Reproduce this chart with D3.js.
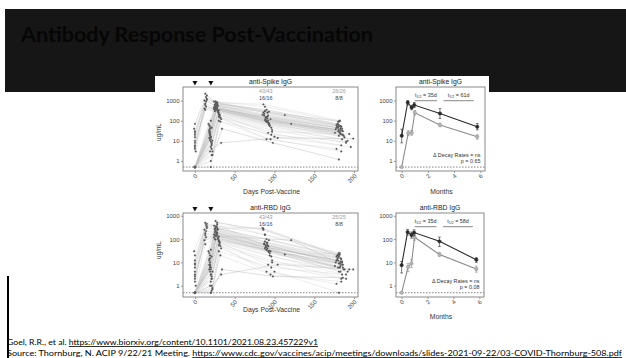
<!DOCTYPE html>
<html>
<head>
<meta charset="utf-8">
<script src="https://cdn.jsdelivr.net/npm/d3@7"></script>
<style>
  body { margin: 0; background: #fff; overflow: hidden; }
  svg { display: block; }
</style>
</head>
<body>
<svg id="slide" width="626" height="358"></svg>
<script>
// ---------- text ----------
const slideTitle = "Antibody Response Post-Vaccination";
const panelTitles = ["anti-Spike IgG", "anti-RBD IgG"];
const xTitles = ["Days Post-Vaccine", "Months"];
const yTitle = "ug/mL";
const footLine1 = ["Goel, R.R., et al. ", "https://www.biorxiv.org/content/10.1101/2021.08.23.457229v1"];
const footLine2 = ["Source: Thornburg, N. ACIP 9/22/21 Meeting. ", "https://www.cdc.gov/vaccines/acip/meetings/downloads/slides-2021-09-22/03-COVID-Thornburg-508.pdf"];

// ---------- ticks ----------
const yTicks = [1, 10, 100, 1000];
const dayTicks = [0, 50, 100, 150, 200];
const monthTicks = [0, 2, 4, 6];
const doseDays = [0, 20];
const limitOfDetection = 0.5;

// ---------- group counts ----------
const countDays = [89, 181];
const spikeCountsNaive = ["43/43", "26/26"];
const spikeCountsRecov = ["16/16", "8/8"];
const rbdCountsNaive = ["43/43", "25/25"];
const rbdCountsRecov = ["16/16", "8/8"];

// ---------- individual trajectories: [day, ug/mL] ----------
const spikeNaive = [
  [[0,0.5],[18,25],[27,420],[88,110],[180,30]],
  [[0,0.5],[20,12],[29,300],[92,80],[183,22]],
  [[0,0.5],[19,40],[26,650],[90,150],[178,45]],
  [[0,0.5],[21,8],[30,210],[94,55],[185,12]],
  [[0,0.5],[18,60],[28,800],[86,260],[181,60]],
  [[0,0.5],[20,5],[31,150],[97,35],[190,8]],
  [[0,0.5],[19,18],[27,380],[89,95],[176,25]],
  [[0,0.5],[22,3],[33,120],[100,16],[196,5]],
  [[0,0.5],[18,30],[25,500],[91,130],[183,35]],
  [[0,0.5],[20,9],[29,260],[93,70],[187,18]],
  [[0,0.5],[21,2],[32,90],[95,12],[184,3]],
  [[0,0.5],[19,50],[28,700],[87,180],[179,50]],
  [[0,0.5],[20,15],[30,330],[90,90],[182,28]],
  [[0,0.5],[17,70],[26,900],[88,300],[180,90]],
  [[0,0.5],[21,6],[31,180],[96,45],[192,10]],
  [[0,0.5],[19,22],[27,440],[92,100],[185,20]],
  [[0,0.5],[20,1],[34,40],[98,8],[181,1.2]],
  [[0,0.5],[18,35],[29,560],[89,140],[177,38]],
  [[0,0.5],[22,10],[30,240],[94,60],[188,15]],
  [[0,0.5],[19,28],[28,350],[91,85],[183,24]],
  [[0,0.5],[21,4],[33,8],[104,14],[199,13]],
  [[0,0.5],[21,45],[25,600],[85,200],[181,55]],
  [[0,0.5],[18,14],[29,280],[93,65],[186,20]],
  [[0,0.5],[20,0.5],[32,140],[97,28],[194,22]],
  [[0,0.5],[19,20],[27,400],[121,70],[182,26]],
  [[0,0.5],[21,7],[31,200],[92,25],[184,6]],
  [[0,0.5],[20,100],[28,750],[113,190],[182,100]],
  [[0,0.5],[19,3],[30,160],[90,12],[178,4]],
  [[0,0.5],[20,16],[28,480],[89,120],[185,32]],
  [[0,0.5],[19,11],[26,320],[93,75],[181,18]],
  [[0,0.5],[22,2],[30,100],[96,20],[190,9]]
];
const spikeRecovered = [
  [[-1,40],[13,2200],[24,900],[88,500],[181,90]],
  [[0,25],[14,1500],[26,700],[90,350],[179,70]],
  [[0,10],[12,1000],[25,600],[91,250],[183,55]],
  [[0,70],[15,1800],[27,800],[86,650],[182,100]],
  [[0,5],[13,700],[24,450],[92,180],[185,40]],
  [[0,8],[14,500],[26,400],[89,150],[180,45]],
  [[0,30],[15,1200],[28,650],[93,280],[178,60]],
  [[1,3],[13,350],[25,300],[95,120],[186,30]],
  [[0,15],[14,900],[27,550],[87,220],[184,50]],
  [[0,4],[12,400],[24,380],[90,100],[181,35]],
  [[0,20],[15,1100],[26,500],[88,300],[180,65]],
  [[0,6],[13,600],[25,350],[91,160],[183,42]]
];
const rbdNaive = [
  [[0,0.5],[18,8],[27,180],[88,40],[180,6]],
  [[0,0.5],[20,3],[29,120],[92,30],[183,4]],
  [[0,0.5],[19,15],[26,350],[90,70],[178,12]],
  [[0,0.5],[21,2],[30,80],[94,20],[185,3]],
  [[0,0.5],[18,25],[28,500],[86,250],[181,20]],
  [[0,0.5],[20,1.5],[31,60],[97,12],[190,2]],
  [[0,0.5],[19,6],[27,150],[89,45],[176,7]],
  [[0,0.5],[22,0.8],[33,40],[100,4],[181,0.5]],
  [[0,0.5],[18,12],[25,250],[91,55],[183,9]],
  [[0,0.5],[20,3],[29,100],[93,28],[187,5]],
  [[0,0.5],[21,0.6],[32,20],[95,3],[184,1.5]],
  [[0,0.5],[19,20],[28,300],[87,60],[179,14]],
  [[0,0.5],[20,5],[30,130],[90,35],[182,6]],
  [[0,0.5],[17,30],[26,600],[88,150],[180,22]],
  [[0,0.5],[21,2],[31,70],[96,18],[192,4]],
  [[0,0.5],[19,8],[27,200],[92,50],[185,8]],
  [[0,0.5],[20,0.5],[34,5],[98,2.5],[186,2.2]],
  [[0,0.5],[18,14],[29,260],[89,55],[177,10]],
  [[0,0.5],[22,4],[30,90],[94,25],[188,5]],
  [[0,0.5],[19,10],[28,160],[91,40],[183,7]],
  [[0,0.5],[21,1],[33,3],[104,8],[199,5]],
  [[0,0.5],[21,18],[25,280],[85,300],[181,18]],
  [[0,0.5],[18,5],[29,110],[93,30],[186,6]],
  [[0,0.5],[20,0.5],[32,50],[97,10],[194,5]],
  [[0,0.5],[19,7],[27,140],[121,90],[182,9]],
  [[0,0.5],[21,2.5],[31,75],[92,8],[184,2]],
  [[0,0.5],[20,35],[28,420],[113,22],[182,25]],
  [[0,0.5],[19,1],[30,55],[90,4],[178,1.2]],
  [[0,0.5],[20,6],[28,190],[89,45],[185,11]],
  [[0,0.5],[19,4],[26,95],[93,32],[181,4]],
  [[0,0.5],[22,0.7],[30,30],[96,6],[190,3]]
];
const rbdRecovered = [
  [[-1,30],[13,500],[24,380],[88,160],[181,25]],
  [[0,12],[14,400],[26,300],[90,100],[179,20]],
  [[0,4],[12,250],[25,200],[91,70],[183,15]],
  [[0,20],[15,450],[27,350],[86,280],[182,22]],
  [[0,2],[13,150],[24,160],[92,50],[185,10]],
  [[0,3],[14,120],[26,140],[89,45],[180,12]],
  [[0,8],[15,300],[28,250],[93,90],[178,18]],
  [[1,1],[13,60],[25,100],[95,30],[186,8]],
  [[0,6],[14,220],[27,180],[87,65],[184,14]],
  [[0,1.5],[12,90],[24,120],[90,35],[181,9]],
  [[0,9],[15,350],[26,220],[88,80],[180,16]],
  [[0,2.5],[13,180],[25,150],[91,55],[183,11]]
];

// ---------- group means with error bars (months, ug/mL) ----------
const recovMonths = [0, 0.46, 0.76, 0.96, 2.92, 5.77];
const naiveMonths = [0, 0.5, 0.76, 1.0, 2.92, 5.77];
const spikeRecovMean = [18, 800, 450, 600, 230, 50];
const spikeRecovLo   = [8, 600, 350, 450, 130, 35];
const spikeRecovHi   = [38, 1000, 580, 800, 400, 72];
const spikeNaiveMean = [0.5, 24, 25, 250, 62, 16];
const spikeNaiveLo   = [0.5, 18, 19, 190, 50, 12];
const spikeNaiveHi   = [0.5, 32, 33, 320, 75, 20];
const rbdRecovMean = [7.6, 200, 150, 190, 80, 13];
const rbdRecovLo   = [3.5, 150, 110, 140, 48, 10];
const rbdRecovHi   = [11, 260, 200, 250, 122, 16];
const rbdNaiveMean = [0.5, 6.5, 9, 120, 22, 5.2];
const rbdNaiveLo   = [0.5, 4, 6, 90, 18, 3.8];
const rbdNaiveHi   = [0.5, 9, 13, 160, 27, 7];

const halfLifeSpike = ["35d", "61d"];
const halfLifeRbd = ["35d", "58d"];
const halfLifeSpans = [[1.0, 2.7], [3.2, 5.5]];
const pSpike = "p = 0.65";
const pRbd = "p = 0.08";

// ---------- drawing ----------
const svg = d3.select("#slide");
const chartFont = "'Liberation Sans', Arial, sans-serif";

// slide header band and title
svg.append("rect").attr("x", 5).attr("y", 9).attr("width", 621).attr("height", 83).attr("fill", "#161616");
svg.append("text")
  .attr("x", 21).attr("y", 42)
  .attr("font-family", "Lato, 'Open Sans', sans-serif").attr("font-weight", 700)
  .attr("font-size", 21).attr("fill", "#060606")
  .attr("textLength", 352).attr("lengthAdjust", "spacingAndGlyphs")
  .text(slideTitle);

// figure canvas
svg.append("rect").attr("x", 155).attr("y", 76).attr("width", 334).attr("height", 250).attr("fill", "#fff");
// left rule beside the references
svg.append("rect").attr("x", 7).attr("y", 276).attr("width", 2).attr("height", 82).attr("fill", "#000");

function styleAxis(g) {
  g.select(".domain").remove();
  g.selectAll("line").attr("stroke", "#555").attr("stroke-width", 0.6);
  g.selectAll("text").attr("font-family", chartFont).attr("font-size", 6).attr("fill", "#444");
}

function frame(geom, x, y, title, xTitle, xTitleY, ticksX) {
  svg.append("text").attr("x", (geom.left + geom.right) / 2).attr("y", geom.top - 3.5)
    .attr("text-anchor", "middle").attr("font-family", chartFont).attr("font-size", 6.8)
    .attr("fill", "#222").text(title);
  // detection limit
  svg.append("line").attr("x1", geom.left).attr("x2", geom.right)
    .attr("y1", y(limitOfDetection)).attr("y2", y(limitOfDetection))
    .attr("stroke", "#333").attr("stroke-width", 0.6).attr("stroke-dasharray", "1.5,1.5");
  const gy = svg.append("g").attr("transform", `translate(${geom.left},0)`)
    .call(d3.axisLeft(y).tickValues(yTicks).tickFormat(d3.format("d")).tickSize(2).tickPadding(1.5));
  styleAxis(gy);
  const gx = svg.append("g").attr("transform", `translate(0,${geom.bottom})`)
    .call(d3.axisBottom(x).tickValues(ticksX).tickFormat(d3.format("d")).tickSize(2));
  styleAxis(gx);
  gx.selectAll("text").attr("y", 0).attr("dy", "0.35em")
    .attr("transform", "translate(1,4) rotate(-45)").attr("text-anchor", "end");
  svg.append("text").attr("x", (geom.left + geom.right) / 2 + 1).attr("y", xTitleY)
    .attr("text-anchor", "middle").attr("font-family", chartFont).attr("font-size", 6.8)
    .attr("fill", "#333").text(xTitle);
}

function box(geom) {
  svg.append("rect").attr("x", geom.left).attr("y", geom.top)
    .attr("width", geom.right - geom.left).attr("height", geom.bottom - geom.top)
    .attr("fill", "none").attr("stroke", "#8a8a8a").attr("stroke-width", 1);
}

function scatterPanel(geom, naive, recovered, title, countsN, countsR, xTitleY, yTitleY) {
  const x = d3.scaleLinear().domain([-15, 205]).range([geom.left, geom.right]);
  const y = d3.scaleLog().domain([geom.ymin, geom.ymax]).range([geom.bottom, geom.top]);
  frame(geom, x, y, title, xTitles[0], xTitleY, dayTicks);

  const line = d3.line().x(d => x(d[0])).y(d => y(d[1]));
  const all = naive.concat(recovered);
  svg.append("g").selectAll("path").data(all).join("path")
    .attr("d", line).attr("fill", "none")
    .attr("stroke", (d, i) => i % 4 === 0 ? "#a8a8a8" : "#cdcdcd")
    .attr("stroke-width", 0.45).attr("stroke-opacity", 0.8);
  svg.append("g").selectAll("circle").data(all.flat()).join("circle")
    .attr("cx", d => x(d[0])).attr("cy", d => y(d[1])).attr("r", 0.95)
    .attr("fill", "#4a4a4a").attr("stroke", "#888").attr("stroke-width", 0.25);

  box(geom);

  // dose markers
  svg.append("g").selectAll("path").data(doseDays).join("path")
    .attr("transform", d => `translate(${x(d)},${geom.top - 4.5}) rotate(180)`)
    .attr("d", d3.symbol(d3.symbolTriangle).size(11)).attr("fill", "#111");

  // counts
  svg.append("g").selectAll("text").data(countsN).join("text")
    .attr("x", (d, i) => x(countDays[i])).attr("y", geom.top + 5.7)
    .attr("text-anchor", "middle").attr("font-family", chartFont).attr("font-size", 5.4)
    .attr("fill", "#9a9a9a").text(d => d);
  svg.append("g").selectAll("text").data(countsR).join("text")
    .attr("x", (d, i) => x(countDays[i])).attr("y", geom.top + 13.2)
    .attr("text-anchor", "middle").attr("font-family", chartFont).attr("font-size", 5.4)
    .attr("fill", "#444").text(d => d);

  svg.append("text").attr("transform", `translate(${geom.left - 22},${yTitleY}) rotate(-90)`)
    .attr("text-anchor", "middle").attr("font-family", chartFont).attr("font-size", 6.4)
    .attr("fill", "#333").text(yTitle);
}

function meanPanel(geom, series, title, halfLives, pText, xTitleY) {
  const x = d3.scaleLinear().domain([-0.435, 6.36]).range([geom.left, geom.right]);
  const y = d3.scaleLog().domain([geom.ymin, geom.ymax]).range([geom.bottom, geom.top]);
  frame(geom, x, y, title, xTitles[1], xTitleY, monthTicks);

  series.forEach(s => {
    const pts = s.months.map((m, i) => ({ m, v: s.mean[i], lo: s.lo[i], hi: s.hi[i] }));
    const g = svg.append("g");
    g.append("path").datum(pts)
      .attr("d", d3.line().x(d => x(d.m)).y(d => y(d.v)))
      .attr("fill", "none").attr("stroke", s.color).attr("stroke-width", 1.1);
    const eb = g.selectAll("g.eb").data(pts.filter(d => d.hi > d.lo)).join("g");
    eb.append("line").attr("x1", d => x(d.m)).attr("x2", d => x(d.m))
      .attr("y1", d => y(d.lo)).attr("y2", d => y(d.hi))
      .attr("stroke", s.color).attr("stroke-width", 0.6);
    ["lo", "hi"].forEach(k => eb.append("line")
      .attr("x1", d => x(d.m) - 1.4).attr("x2", d => x(d.m) + 1.4)
      .attr("y1", d => y(d[k])).attr("y2", d => y(d[k]))
      .attr("stroke", s.color).attr("stroke-width", 0.6));
    g.selectAll("circle").data(pts).join("circle")
      .attr("cx", d => x(d.m)).attr("cy", d => y(d.v)).attr("r", 1.7)
      .attr("fill", s.fill).attr("stroke", s.color).attr("stroke-width", 0.5);
  });

  box(geom);

  // half-life brackets
  halfLifeSpans.forEach((span, i) => {
    svg.append("line").attr("x1", x(span[0])).attr("x2", x(span[1]))
      .attr("y1", geom.top + 13.7).attr("y2", geom.top + 13.7)
      .attr("stroke", "#555").attr("stroke-width", 0.7);
    const t = svg.append("text").attr("x", x((span[0] + span[1]) / 2)).attr("y", geom.top + 9.5)
      .attr("text-anchor", "middle").attr("font-family", chartFont).attr("font-size", 5.4).attr("fill", "#333");
    t.append("tspan").text("t");
    t.append("tspan").attr("font-size", 3.6).attr("dy", 1.2).text("1/2");
    t.append("tspan").attr("dy", -1.2).text(" = " + halfLives[i]);
  });

  svg.append("text").attr("x", geom.right - 4.5).attr("y", geom.bottom - 14.2)
    .attr("text-anchor", "end").attr("font-family", chartFont).attr("font-size", 5.4)
    .attr("fill", "#333").text("\u0394 Decay Rates = ns");
  svg.append("text").attr("x", geom.right - 4.5).attr("y", geom.bottom - 7.6)
    .attr("text-anchor", "end").attr("font-family", chartFont).attr("font-size", 5.4)
    .attr("fill", "#333").text(pText);
}

// panel geometry
const topScatter = { left: 183, right: 358, top: 87, bottom: 171, ymin: 0.32, ymax: 4710 };
const topMeans   = { left: 396, right: 485, top: 87, bottom: 171, ymin: 0.32, ymax: 4710 };
const botScatter = { left: 183, right: 358, top: 213, bottom: 297, ymin: 0.327, ymax: 1318 };
const botMeans   = { left: 396, right: 484, top: 213, bottom: 297, ymin: 0.327, ymax: 1318 };

scatterPanel(topScatter, spikeNaive, spikeRecovered, panelTitles[0], spikeCountsNaive, spikeCountsRecov, 194, 132);
scatterPanel(botScatter, rbdNaive, rbdRecovered, panelTitles[1], rbdCountsNaive, rbdCountsRecov, 312, 250);

meanPanel(topMeans, [
  { months: naiveMonths, mean: spikeNaiveMean, lo: spikeNaiveLo, hi: spikeNaiveHi, color: "#8c8c8c", fill: "#b5b5b5" },
  { months: recovMonths, mean: spikeRecovMean, lo: spikeRecovLo, hi: spikeRecovHi, color: "#2a2a2a", fill: "#2a2a2a" }
], panelTitles[0], halfLifeSpike, pSpike, 194);
meanPanel(botMeans, [
  { months: naiveMonths, mean: rbdNaiveMean, lo: rbdNaiveLo, hi: rbdNaiveHi, color: "#8c8c8c", fill: "#b5b5b5" },
  { months: recovMonths, mean: rbdRecovMean, lo: rbdRecovLo, hi: rbdRecovHi, color: "#2a2a2a", fill: "#2a2a2a" }
], panelTitles[1], halfLifeRbd, pRbd, 319);

// references
function footLine(parts, yPos, len) {
  const t = svg.append("text").attr("x", 7).attr("y", yPos)
    .attr("font-family", "Lato, 'Open Sans', sans-serif").attr("font-size", 8).attr("fill", "#000")
    .attr("textLength", len).attr("lengthAdjust", "spacingAndGlyphs");
  t.append("tspan").text(parts[0]);
  t.append("tspan").attr("text-decoration", "underline").text(parts[1]);
}
footLine(footLine1, 345, 311);
footLine(footLine2, 356, 615);
</script>
</body>
</html>
